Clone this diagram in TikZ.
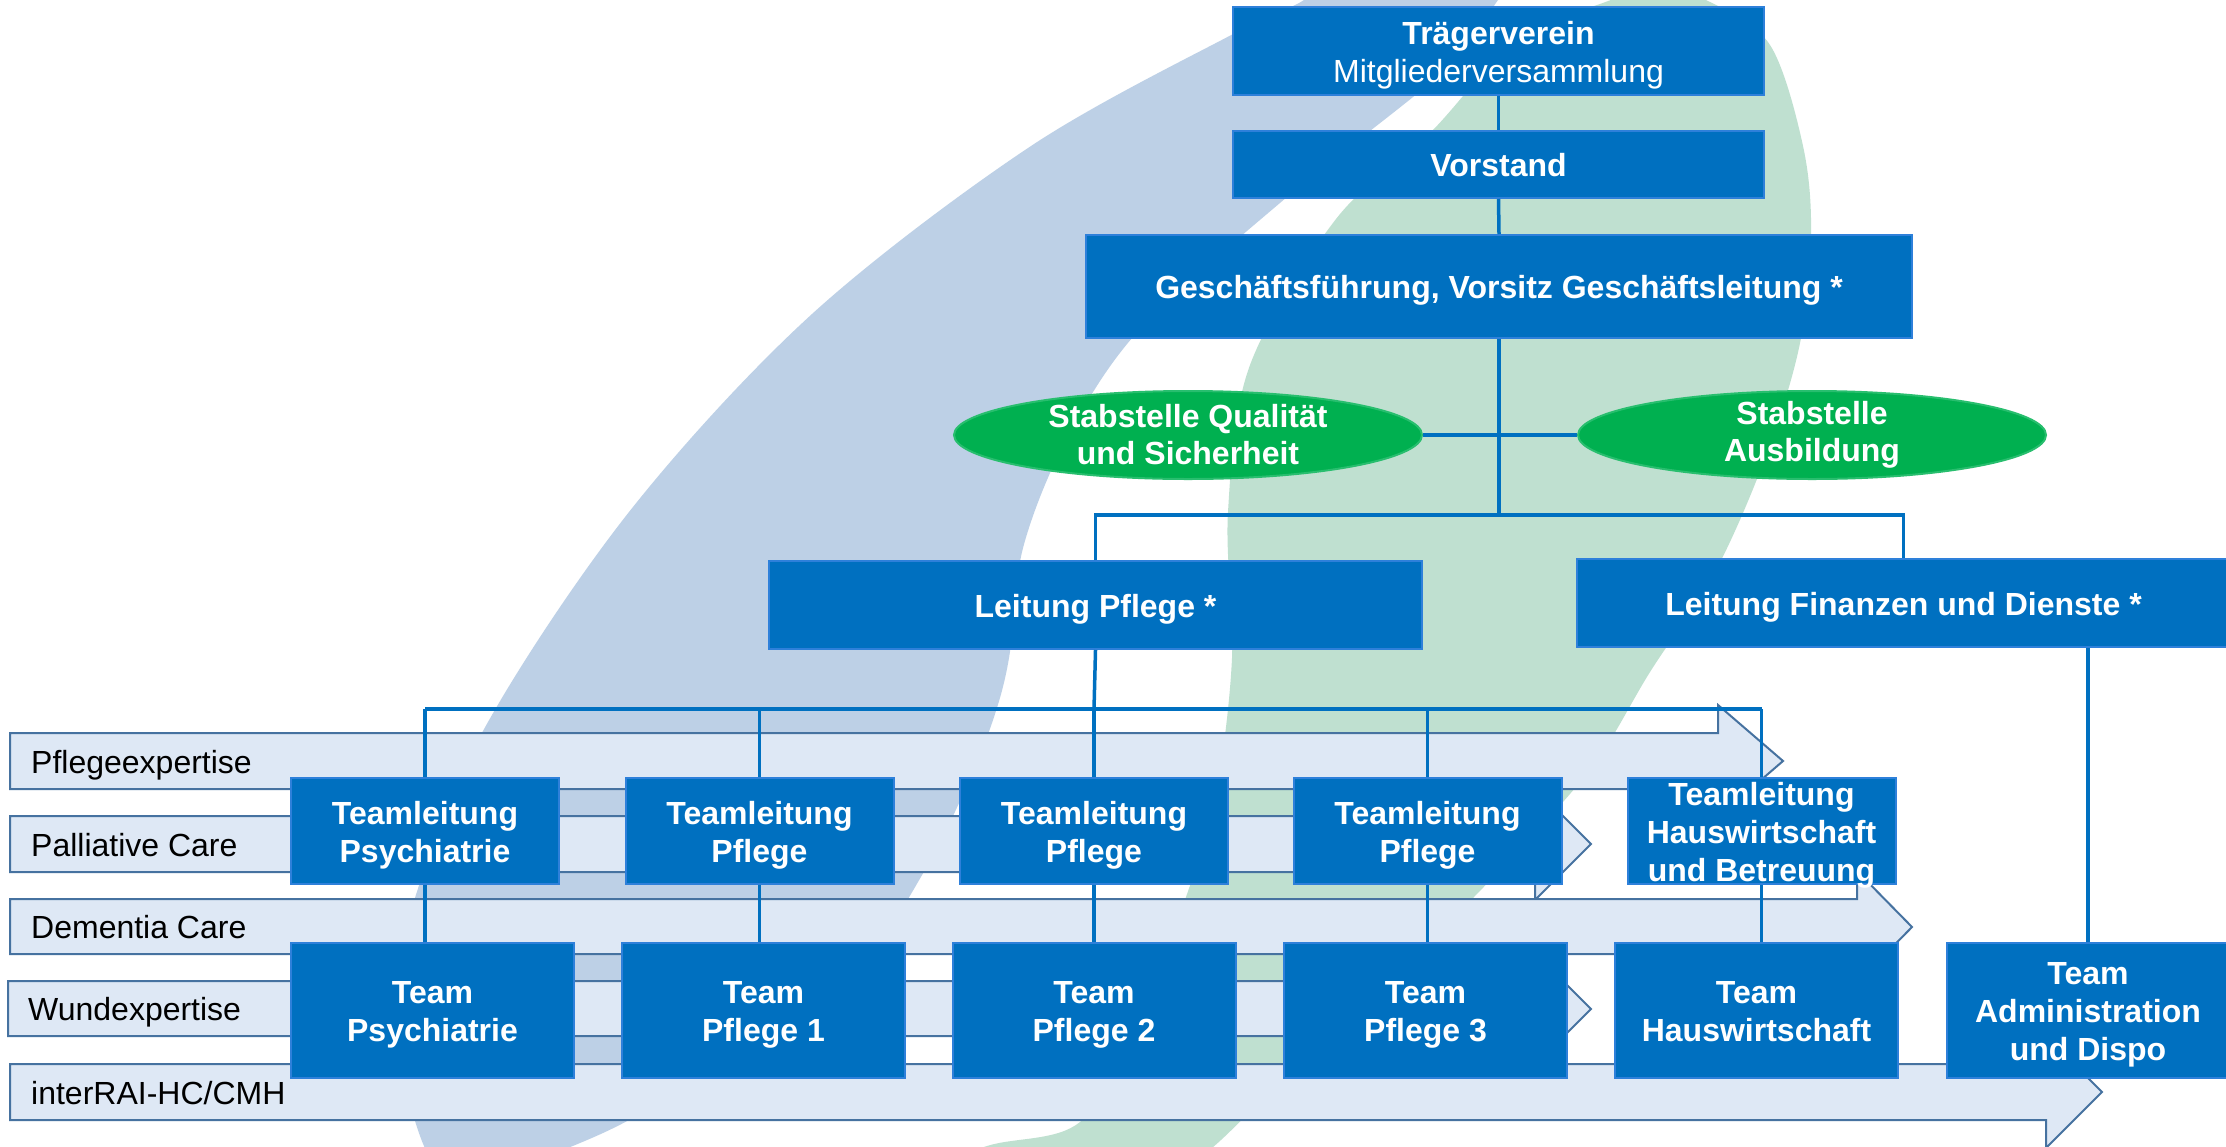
\documentclass[tikz,border=0pt]{standalone}
\usepackage{fontspec}
\setmainfont{Liberation Sans}
\usetikzlibrary{shapes.geometric}
\definecolor{bgblue}{RGB}{189,208,230}
\definecolor{bggreen}{RGB}{191,224,208}
\definecolor{barfill}{RGB}{222,232,245}
\definecolor{barline}{RGB}{70,114,160}
\definecolor{boxfill}{RGB}{0,112,192}
\definecolor{boxline}{RGB}{46,128,218}
\definecolor{ellfill}{RGB}{0,176,80}
\definecolor{elline}{RGB}{40,190,110}
\definecolor{connblue}{RGB}{0,112,192}
\begin{document}
\begin{tikzpicture}[x=1pt,y=-1pt,
  box/.style={fill=boxfill, draw=boxline, line width=2pt, inner sep=0pt},
  boxtext/.style={text=white, font=\bfseries\fontsize{32}{38}\selectfont,
    align=center, inner sep=0pt, yshift=-4pt},
  ell/.style={ellipse, fill=ellfill, draw=elline, line width=2pt, inner sep=0pt},
  elltext/.style={text=white, font=\bfseries\fontsize{32}{37}\selectfont, align=center, inner sep=0pt},
  conn/.style={draw=connblue, line width=3.5pt},
  bar/.style={fill=barfill, draw=barline, line width=2pt, line join=miter},
  barlabel/.style={anchor=base west, font=\fontsize{32}{38}\selectfont, inner sep=0pt}
]
\useasboundingbox (0,0) rectangle (2226,1146);
\fill[white] (0,0) rectangle (2226,1146);

% background swooshes
\fill[bgblue] plot[smooth cycle, tension=0.55] coordinates {
  (1330,-30) (1304,0) (1235,33) (1031,146) (812,314) (629,512) (483,731)
  (410,914) (395,1023) (424,1146) (470,1195)
  (540,1160) (629,1120) (760,1040) (870,950) (925,870) (965,790)
  (993,720) (1009,658) (1023,548) (1067,438) (1140,329) (1287,197)
  (1446,69) (1498,0) (1520,-30)};
\fill[bggreen] plot[smooth cycle, tension=0.55] coordinates {
  (1655,-12) (1600,4) (1518,37) (1431,132) (1336,219) (1250,365) (1228,512)
  (1232,658) (1215,800) (1185,900) (1140,1020) (1080,1122) (987,1146) (900,1180)
  (1150,1185) (1300,1060) (1400,970) (1500,870) (1592,767) (1650,672)
  (1716,570) (1767,453) (1800,343) (1811,234) (1803,146) (1770,45) (1710,2)};

% expertise arrows
\path[bar] (10,733) -- (1718,733) -- (1718,705) -- (1783,761) -- (1718,817) -- (1718,789) -- (10,789) -- cycle;
\node[barlabel] (lb1) at (31,773) {Pflegeexpertise};
\path[bar] (10,816) -- (1535,816) -- (1535,788) -- (1591,844) -- (1535,900) -- (1535,872) -- (10,872) -- cycle;
\node[barlabel] (lb2) at (31,856) {Palliative Care};
\path[bar] (10,899) -- (1857,899) -- (1857,871) -- (1912,927) -- (1857,983) -- (1857,954) -- (10,954) -- cycle;
\node[barlabel] (lb3) at (31,938) {Dementia Care};
\path[bar] (8,981) -- (1535,981) -- (1535,953) -- (1591,1009) -- (1535,1065) -- (1535,1036) -- (8,1036) -- cycle;
\node[barlabel] (lb4) at (28,1020) {Wundexpertise};
\path[bar] (10,1064) -- (2046,1064) -- (2046,1036) -- (2102,1092) -- (2046,1148) -- (2046,1120) -- (10,1120) -- cycle;
\node[barlabel] (lb5) at (31,1104) {interRAI-HC/CMH};

% top hierarchy
\node[box, minimum width=531pt, minimum height=88pt,
  label={[boxtext]center:{Trägerverein\\\mdseries Mitgliederversammlung}}] (trager) at (1498.5,51) {};
\node[box, minimum width=531pt, minimum height=67pt,
  label={[boxtext]center:Vorstand\vphantom{g}}] (vorstand) at (1498.5,164.5) {};
\node[box, minimum width=826pt, minimum height=103pt,
  label={[boxtext]center:{Geschäftsführung, Vorsitz Geschäftsleitung *}}] (gf) at (1499,286.5) {};
\node[ell, minimum width=468pt, minimum height=88pt,
  label={[elltext]center:{Stabstelle Qualität\\und Sicherheit}}] (sq) at (1188,435) {};
\node[ell, minimum width=468pt, minimum height=88pt,
  label={[elltext]center:{Stabstelle\\Ausbildung}}] (sa) at (1812,435) {};
\node[box, minimum width=653pt, minimum height=88pt,
  label={[boxtext]center:{Leitung Pflege *}}] (lp) at (1095.5,605) {};
\node[box, minimum width=653pt, minimum height=88pt,
  label={[boxtext]center:{Leitung Finanzen und Dienste *}}] (lf) at (1903.5,603) {};

% team leaders
\node[box, minimum width=268pt, minimum height=106pt,
  label={[boxtext]center:{Teamleitung\\Psychiatrie}}] (tl1) at (425,831) {};
\node[box, minimum width=268pt, minimum height=106pt,
  label={[boxtext]center:{Teamleitung\\Pflege}}] (tl2) at (759.5,831) {};
\node[box, minimum width=268pt, minimum height=106pt,
  label={[boxtext]center:{Teamleitung\\Pflege}}] (tl3) at (1094,831) {};
\node[box, minimum width=268pt, minimum height=106pt,
  label={[boxtext]center:{Teamleitung\\Pflege}}] (tl4) at (1427.5,831) {};
\node[box, minimum width=268pt, minimum height=106pt,
  label={[boxtext]center:{Teamleitung\\Hauswirtschaft\\und Betreuung}}] (tl5) at (1761.5,831) {};

% teams
\node[box, minimum width=283pt, minimum height=135pt,
  label={[boxtext]center:{Team\\Psychiatrie}}] (t1) at (432.5,1010.5) {};
\node[box, minimum width=283pt, minimum height=135pt,
  label={[boxtext]center:{Team\\Pflege 1}}] (t2) at (763.5,1010.5) {};
\node[box, minimum width=283pt, minimum height=135pt,
  label={[boxtext]center:{Team\\Pflege 2}}] (t3) at (1094,1010.5) {};
\node[box, minimum width=283pt, minimum height=135pt,
  label={[boxtext]center:{Team\\Pflege 3}}] (t4) at (1425.5,1010.5) {};
\node[box, minimum width=283pt, minimum height=135pt,
  label={[boxtext]center:{Team\\Hauswirtschaft\vphantom{g}}}] (t5) at (1756.5,1010.5) {};
\node[box, minimum width=283pt, minimum height=135pt,
  label={[boxtext]center:{Team\\Administration\\und Dispo}}] (t6) at (2088,1010.5) {};

% connectors
\coordinate (bus) at (1499,515);
\coordinate (tlbus) at (1094,709);
\path[conn] (trager.south) -- (vorstand.north);
\path[conn] (vorstand.south) -- (gf.north);
\path[conn] (gf.south) -- (bus);
\path[conn] (sq.east) -- (sa.west);
\path[conn] (lp.north) -- (lp.north |- bus) -- (lf.north |- bus) -- (lf.north);
\path[conn] (lp.south) -- (tlbus);
\path[conn] (tl1.north |- tlbus) -- (tl5.north |- tlbus);
\foreach \n in {tl1,tl2,tl3,tl4,tl5} {
  \path[conn] (\n.north |- tlbus) -- (\n.north);
}
\path[conn] (tl1.south) -- (tl1.south |- t1.north);
\path[conn] (tl2.south) -- (tl2.south |- t2.north);
\path[conn] (tl3.south) -- (tl3.south |- t3.north);
\path[conn] (tl4.south) -- (tl4.south |- t4.north);
\path[conn] (tl5.south) -- (tl5.south |- t5.north);
\path[conn] (t6.north) -- (t6.north |- lf.south);
\end{tikzpicture}
\end{document}
